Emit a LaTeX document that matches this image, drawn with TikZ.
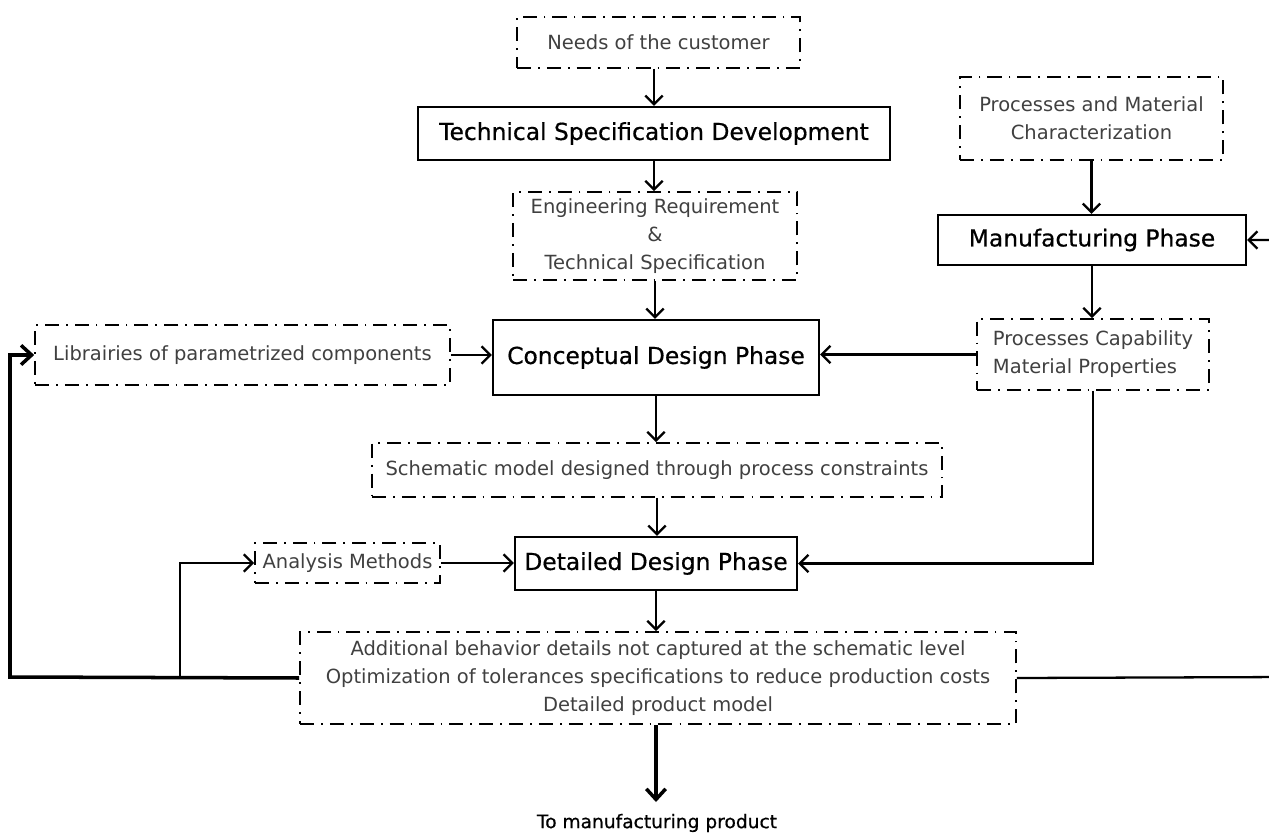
\documentclass[tikz,border=0pt]{standalone}
\usepackage{fontspec}
\setmainfont{DejaVu Sans}
\newfontfamily\phasefont[FakeBold=0.6]{DejaVu Sans}
\usetikzlibrary{arrows.meta}
\begin{document}
\begin{tikzpicture}[x=0.02cm,y=-0.02cm,
  bx/.style 2 args={minimum width=#1*0.02cm, minimum height=#2*0.02cm},
  lightbox/.style={draw, line width=0.9pt, dash pattern=on 8pt off 4pt on 1pt off 4pt,
    text=black!75, font=\fontsize{11.1}{15.9}\selectfont, align=center, inner sep=0pt},
  phase/.style={draw, line width=1.2pt, font=\phasefont\fontsize{13.3}{15.9}\selectfont, inner sep=0pt},
  conn/.style={line width=1.3pt, -{Straight Barb[length=5pt,width=10pt,line width=1.3pt]}},
  thick conn/.style={line width=2pt, -{Straight Barb[length=6pt,width=11pt,line width=2pt]}}]
\useasboundingbox (0,0) rectangle (1269,835);

\node[lightbox, bx={283}{51}] (needs) at (658.5,42.5) {Needs of the customer};
\node[phase, bx={472}{53}] (tsd) at (654,133.5) {Technical Specification Development};
\node[lightbox, bx={284}{88}] (eng) at (655,236) {Engineering Requirement\\\&\\Technical Specification};
\node[phase, bx={326}{75}] (conc) at (656,357.5) {Conceptual Design Phase};
\node[lightbox, bx={415}{60}] (lib) at (242.5,355) {Librairies of parametrized components};
\node[lightbox, bx={263}{83}] (pmc) at (1091.5,118.5) {Processes and Material\\Characterization};
\node[phase, bx={308}{50}] (manuf) at (1092,240) {Manufacturing Phase};
\node[lightbox, bx={232}{71}, align=left] (pcap) at (1093,354.5) {Processes Capability\\Material Properties};
\node[lightbox, bx={570}{54}] (schem) at (657,470) {Schematic model designed through process constraints};
\node[phase, bx={282}{53}] (det) at (656,563.5) {Detailed Design Phase};
\node[lightbox, bx={185}{40}] (ana) at (347.5,563) {Analysis Methods};
\node[lightbox, bx={716}{92}] (add) at (658,678) {Additional behavior details not captured at the schematic level\\Optimization of tolerances specifications to reduce production costs\\Detailed product model};
\node[font=\phasefont\fontsize{10.6}{15.9}\selectfont, inner sep=0pt] (out) at (657,823) {To manufacturing product};

\coordinate (outtip) at (656,802);
\coordinate (lcorner) at (10,677);
\coordinate (br) at (180,677);
\coordinate (rcorner) at (1290,677);

\draw[conn] (needs.south -| tsd.north) -- (tsd.north);
\draw[conn] (tsd.south) -- (tsd.south |- eng.north);
\draw[conn] (eng.south) -- (eng.south |- conc.north);
\draw[conn] (lib.east) -- (lib.east -| conc.west);
\draw[conn] (pcap.west) -- (pcap.west -| conc.east);
\draw[conn] (pmc.south) -- (pmc.south |- manuf.north);
\draw[conn] (manuf.south) -- (manuf.south |- pcap.north);
\draw[conn] (pcap.south) |- (det.east);
\draw[conn] (conc.south) -- (conc.south |- schem.north);
\draw[conn] (schem.south) -- (schem.south |- det.north);
\draw[conn] (ana.east) -- (ana.east -| det.west);
\draw[conn] (det.south) -- (det.south |- add.north);
\draw[thick conn] (add.west) -- (lcorner) |- (lib.west);
\draw[conn] (br) |- (ana.west);
\draw[conn] (add.east) -- (rcorner) |- (manuf.east);
\draw[thick conn] (add.south -| outtip) -- (outtip);
\end{tikzpicture}
\end{document}
